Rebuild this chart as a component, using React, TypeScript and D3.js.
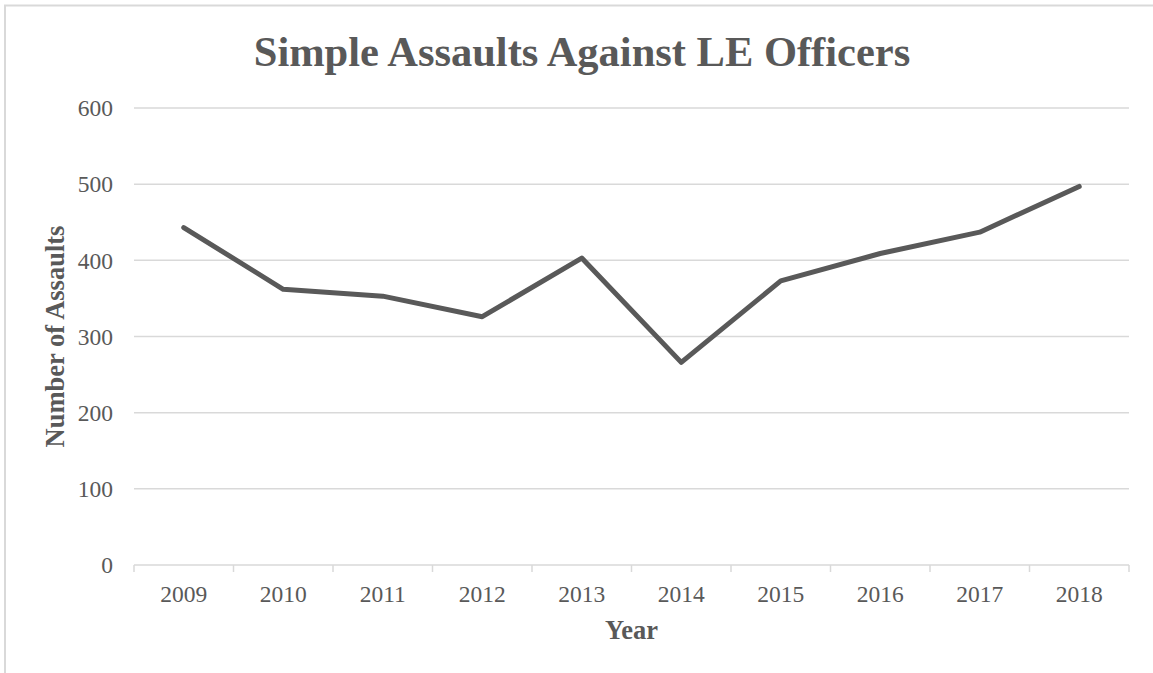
import React from "react";
import * as d3 from "d3";

const years = ["2009", "2010", "2011", "2012", "2013", "2014", "2015", "2016", "2017", "2018"];
const assaults = [443, 362, 353, 326, 403, 266, 373, 409, 437, 497];
const yTicks = [0, 100, 200, 300, 400, 500, 600];

const W = 1153;
const H = 673;
const left = 134;
const right = 1129;
const top = 108;
const bottom = 565;
const textColor = "#595959";
const gridColor = "#d9d9d9";
const font = "'Liberation Serif', 'Times New Roman', serif";

export default function App() {
  const x = d3.scaleBand<string>().domain(years).range([left, right]);
  const y = d3.scaleLinear().domain([0, 600]).range([bottom, top]);
  const line = d3
    .line<number>()
    .x((_, i) => (x(years[i]) as number) + x.bandwidth() / 2)
    .y((d) => y(d));

  return (
    <svg
      width={W}
      height={H}
      style={{ position: "absolute", left: 0, top: 0, background: "#fff" }}
      fontFamily={font}
    >
      <rect x={5} y={5.5} width={W + 20} height={H + 20} fill="#fff" stroke={gridColor} strokeWidth={2} />
      <text x={582} y={66} textAnchor="middle" fontSize={42.5} fontWeight="bold" fill={textColor}>
        Simple Assaults Against LE Officers
      </text>
      {yTicks.map((t) => (
        <g key={t}>
          <line x1={left} x2={right} y1={y(t)} y2={y(t)} stroke={gridColor} strokeWidth={1.5} />
          <text x={113} y={y(t)} dy="0.35em" textAnchor="end" fontSize={23.5} fill={textColor}>
            {t}
          </text>
        </g>
      ))}
      {d3.range(years.length + 1).map((i) => {
        const xx = left + i * x.step();
        return <line key={i} x1={xx} x2={xx} y1={bottom} y2={bottom + 7} stroke={gridColor} strokeWidth={1.5} />;
      })}
      {years.map((yr) => (
        <text
          key={yr}
          x={(x(yr) as number) + x.bandwidth() / 2}
          y={602}
          textAnchor="middle"
          fontSize={23.5}
          fill={textColor}
        >
          {yr}
        </text>
      ))}
      <path
        d={line(assaults) || ""}
        fill="none"
        stroke={textColor}
        strokeWidth={5}
        strokeLinejoin="round"
        strokeLinecap="round"
      />
      <text x={(left + right) / 2} y={639} textAnchor="middle" fontSize={26.5} fontWeight="bold" fill={textColor}>
        Year
      </text>
      <text
        transform={`translate(64, ${(top + bottom) / 2}) rotate(-90)`}
        textAnchor="middle"
        fontSize={26.5}
        fontWeight="bold"
        fill={textColor}
      >
        Number of Assaults
      </text>
    </svg>
  );
}
